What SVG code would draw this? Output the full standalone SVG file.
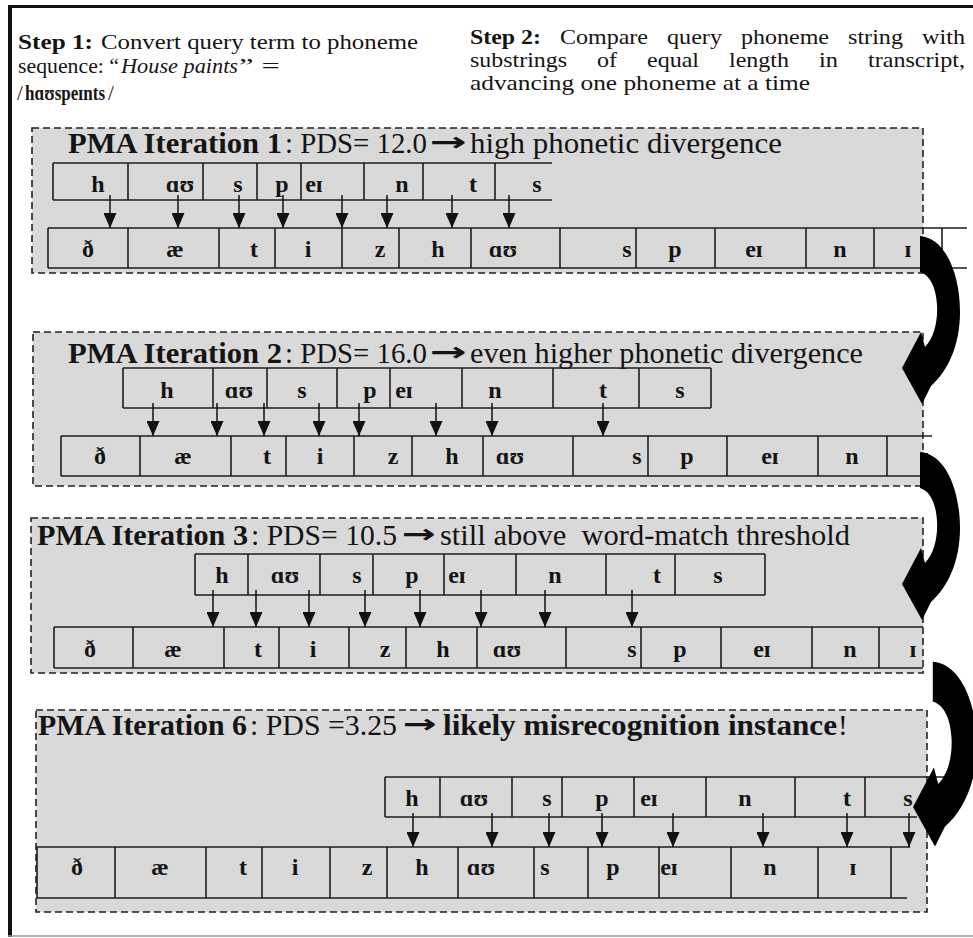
<svg xmlns="http://www.w3.org/2000/svg" width="973" height="938" viewBox="0 0 973 938">
<style>
.t{font-family:"Liberation Serif","DejaVu Serif",serif;fill:#141414}
.st{font-size:21px}
.ti{font-size:29px}
.b{font-weight:bold}
.it{font-style:italic}
.lb{font-size:24px;font-weight:bold;text-anchor:middle}
.ar{font-family:"DejaVu Sans",sans-serif;font-weight:bold;font-size:26px;fill:#141414}
.pan{fill:#d9d9d9;stroke:#222;stroke-width:1.6;stroke-dasharray:7 4}
.row{fill:none;stroke:#1e1e1e;stroke-width:1.6}
.dn line{stroke:#111;stroke-width:1.5;marker-end:url(#ah)}
.curv{fill:#000}
</style>
<defs>
<marker id="ah" markerUnits="userSpaceOnUse" viewBox="0 0 15 13" markerWidth="15" markerHeight="13" refX="15" refY="6.5" orient="auto">
<path d="M0,0 L15,6.5 L0,13 z" fill="#111"/>
</marker>
<path id="curvArrow" d="M920,236 C946,238 960,275 960,312 C960,345 948,371 931,386 L922,404 L902,368 L921,332 L925,347 C934,338 938,321 937,305 C936,287 930,275 920,272 Z"/>
</defs>
<rect x="0" y="0" width="973" height="938" fill="#fff"/>
<g id="frame">
<path d="M10,5 V937" stroke="#111" stroke-width="4" fill="none"/>
<path d="M8,6.5 H973" stroke="#111" stroke-width="3" fill="none"/>
<path d="M8,936 H973" stroke="#999" stroke-width="1.5" fill="none"/>
</g>
<g id="step1">
<text class="t st b" x="18" y="49" textLength="75" lengthAdjust="spacingAndGlyphs">Step 1:</text>
<text class="t st" x="101" y="49" textLength="317" lengthAdjust="spacingAndGlyphs">Convert query term to phoneme</text>
<text class="t st" x="18" y="73" textLength="101" lengthAdjust="spacingAndGlyphs">sequence: “</text>
<text class="t st it" x="121" y="73" textLength="117" lengthAdjust="spacingAndGlyphs">House paints</text>
<text class="t st" x="239" y="73" textLength="41" lengthAdjust="spacingAndGlyphs">” =</text>
<text class="t st" x="17" y="100">/</text>
<text class="t b" style="font-size:20px" x="25" y="100" textLength="80" lengthAdjust="spacingAndGlyphs">hɑʊspeɪnts</text>
<text class="t st" x="108" y="100">/</text>
</g>
<g id="step2">
<text class="t st b" x="470" y="44" textLength="71" lengthAdjust="spacingAndGlyphs">Step 2:</text>
<text class="t st" x="560" y="44" textLength="88" lengthAdjust="spacingAndGlyphs">Compare</text>
<text class="t st" x="667" y="44" textLength="55" lengthAdjust="spacingAndGlyphs">query</text>
<text class="t st" x="741" y="44" textLength="88" lengthAdjust="spacingAndGlyphs">phoneme</text>
<text class="t st" x="848" y="44" textLength="55" lengthAdjust="spacingAndGlyphs">string</text>
<text class="t st" x="922" y="44" textLength="43" lengthAdjust="spacingAndGlyphs">with</text>
<text class="t st" x="470" y="67" textLength="97" lengthAdjust="spacingAndGlyphs">substrings</text>
<text class="t st" x="597" y="67" textLength="20" lengthAdjust="spacingAndGlyphs">of</text>
<text class="t st" x="647" y="67" textLength="52" lengthAdjust="spacingAndGlyphs">equal</text>
<text class="t st" x="729" y="67" textLength="60" lengthAdjust="spacingAndGlyphs">length</text>
<text class="t st" x="819" y="67" textLength="19" lengthAdjust="spacingAndGlyphs">in</text>
<text class="t st" x="868" y="67" textLength="97" lengthAdjust="spacingAndGlyphs">transcript,</text>
<text class="t st" x="470" y="90" textLength="340" lengthAdjust="spacingAndGlyphs">advancing one phoneme at a time</text>
</g>

<g id="panel1">
<rect class="pan" x="32" y="128" width="891" height="145"/>
<text class="t ti b" x="68" y="153" textLength="214" lengthAdjust="spacingAndGlyphs">PMA Iteration 1</text>
<text class="t ti" x="285" y="153" textLength="142" lengthAdjust="spacingAndGlyphs">: PDS= 12.0</text>
<text class="ar" x="430" y="151" textLength="37" lengthAdjust="spacingAndGlyphs">→</text>
<text class="t ti" x="470" y="153" textLength="312" lengthAdjust="spacingAndGlyphs">high phonetic divergence</text>
<path class="row" d="M53,163 H552 M53,200 H552 M53,163 V200 M128,163 V200 M203,163 V200 M257,163 V200 M301,163 V200 M364,163 V200 M423,163 V200 M495,163 V200"/>
<g class="t lb">
<text x="98" y="192">h</text><text x="180" y="192">ɑʊ</text><text x="238" y="192">s</text><text x="282" y="192">p</text><text x="314" y="192">eɪ</text><text x="402" y="192">n</text><text x="473" y="192">t</text><text x="537" y="192">s</text>
</g>
<path class="row" d="M48,228 H967 M48,268 H967 M48,228 V268 M128,228 V268 M219,228 V268 M275,228 V268 M342,228 V268 M399,228 V268 M471,228 V268 M560,228 V268 M636,228 V268 M715,228 V268 M806,228 V268 M874,228 V268 M942,228 V268"/>
<g class="t lb">
<text x="88" y="257">ð</text><text x="175" y="257">æ</text><text x="254" y="257">t</text><text x="308" y="257">i</text><text x="380" y="257">z</text><text x="438" y="257">h</text><text x="503" y="257">ɑʊ</text><text x="627" y="257">s</text><text x="675" y="257">p</text><text x="754" y="257">eɪ</text><text x="840" y="257">n</text><text x="908" y="257">ɪ</text>
</g>
</g>

<g id="panel2">
<rect class="pan" x="33" y="332" width="890" height="154"/>
<text class="t ti b" x="68" y="363" textLength="214" lengthAdjust="spacingAndGlyphs">PMA Iteration 2</text>
<text class="t ti" x="285" y="363" textLength="142" lengthAdjust="spacingAndGlyphs">: PDS= 16.0</text>
<text class="ar" x="430" y="361" textLength="37" lengthAdjust="spacingAndGlyphs">→</text>
<text class="t ti" x="470" y="363" textLength="393" lengthAdjust="spacingAndGlyphs">even higher phonetic divergence</text>
<path class="row" d="M123,368 H711 M123,408 H711 M123,368 V408 M213,368 V408 M267,368 V408 M337,368 V408 M390,368 V408 M462,368 V408 M553,368 V408 M639,368 V408 M711,368 V408"/>
<g class="t lb">
<text x="167" y="398">h</text><text x="239" y="398">ɑʊ</text><text x="302" y="398">s</text><text x="370" y="398">p</text><text x="404" y="398">eɪ</text><text x="495" y="398">n</text><text x="603" y="398">t</text><text x="680" y="398">s</text>
</g>
<path class="row" d="M61,436 H932 M61,476 H932 M61,436 V476 M140,436 V476 M231,436 V476 M286,436 V476 M354,436 V476 M412,436 V476 M483,436 V476 M573,436 V476 M648,436 V476 M727,436 V476 M818,436 V476 M887,436 V476"/>
<g class="t lb">
<text x="100" y="464">ð</text><text x="183" y="464">æ</text><text x="267" y="464">t</text><text x="320" y="464">i</text><text x="393" y="464">z</text><text x="452" y="464">h</text><text x="510" y="464">ɑʊ</text><text x="637" y="464">s</text><text x="687" y="464">p</text><text x="770" y="464">eɪ</text><text x="852" y="464">n</text><text x="925" y="464">ɪ</text>
</g>
</g>

<g id="panel3">
<rect class="pan" x="31" y="518" width="892" height="155"/>
<text class="t ti b" x="37" y="545" textLength="211" lengthAdjust="spacingAndGlyphs">PMA Iteration 3</text>
<text class="t ti" x="251" y="545" textLength="146" lengthAdjust="spacingAndGlyphs">: PDS= 10.5</text>
<text class="ar" x="402" y="543" textLength="34" lengthAdjust="spacingAndGlyphs">→</text>
<text class="t ti" x="440" y="545" textLength="410" lengthAdjust="spacingAndGlyphs">still above&#160; word-match threshold</text>
<path class="row" d="M195,554 H765 M195,595 H765 M195,554 V595 M248,554 V595 M320,554 V595 M373,554 V595 M444,554 V595 M516,554 V595 M606,554 V595 M675,554 V595 M765,554 V595"/>
<g class="t lb">
<text x="222" y="583">h</text><text x="285" y="583">ɑʊ</text><text x="357" y="583">s</text><text x="412" y="583">p</text><text x="457" y="583">eɪ</text><text x="555" y="583">n</text><text x="657" y="583">t</text><text x="718" y="583">s</text>
</g>
<path class="row" d="M54,627 H923 M54,668 H923 M54,627 V668 M133,627 V668 M224,627 V668 M279,627 V668 M349,627 V668 M406,627 V668 M477,627 V668 M566,627 V668 M641,627 V668 M721,627 V668 M812,627 V668 M879,627 V668"/>
<g class="t lb">
<text x="90" y="657">ð</text><text x="173" y="657">æ</text><text x="258" y="657">t</text><text x="313" y="657">i</text><text x="385" y="657">z</text><text x="443" y="657">h</text><text x="507" y="657">ɑʊ</text><text x="632" y="657">s</text><text x="680" y="657">p</text><text x="762" y="657">eɪ</text><text x="850" y="657">n</text><text x="913" y="657">ɪ</text>
</g>
</g>

<g id="panel4">
<rect class="pan" x="36" y="710" width="891" height="202"/>
<text class="t ti b" x="38" y="735" textLength="209" lengthAdjust="spacingAndGlyphs">PMA Iteration 6</text>
<text class="t ti" x="250" y="735" textLength="147" lengthAdjust="spacingAndGlyphs">: PDS =3.25</text>
<text class="ar" x="403" y="733" textLength="34" lengthAdjust="spacingAndGlyphs">→</text>
<text class="t ti b" x="443" y="735" textLength="394" lengthAdjust="spacingAndGlyphs">likely misrecognition instance</text>
<text class="t ti" x="838" y="735">!</text>
<path class="row" d="M385,777 H973 M385,817 H917 M385,777 V817 M440,777 V817 M512,777 V817 M562,777 V817 M634,777 V817 M706,777 V817 M795,777 V817 M865,777 V817"/>
<g class="t lb">
<text x="412" y="806">h</text><text x="474" y="806">ɑʊ</text><text x="547" y="806">s</text><text x="602" y="806">p</text><text x="649" y="806">eɪ</text><text x="745" y="806">n</text><text x="847" y="806">t</text><text x="908" y="806">s</text>
</g>
<path class="row" d="M37,847 H910 M37,898 H907 M37,847 V898 M115,847 V898 M206,847 V898 M262,847 V898 M330,847 V898 M387,847 V898 M458,847 V898 M534,847 V898 M588,847 V898 M659,847 V898 M731,847 V898 M818,847 V898 M891,847 V898"/>
<g class="t lb">
<text x="77" y="875">ð</text><text x="160" y="875">æ</text><text x="243" y="875">t</text><text x="295" y="875">i</text><text x="367" y="875">z</text><text x="422" y="875">h</text><text x="481" y="875">ɑʊ</text><text x="545" y="875">s</text><text x="613" y="875">p</text><text x="669" y="875">eɪ</text><text x="770" y="875">n</text><text x="853" y="875">ɪ</text>
</g>
</g>

<g id="connectors">
<g class="dn">
<line x1="110" y1="195" x2="110" y2="228"/><line x1="178" y1="195" x2="178" y2="228"/><line x1="239" y1="195" x2="239" y2="228"/><line x1="283" y1="195" x2="283" y2="228"/><line x1="342" y1="195" x2="342" y2="228"/><line x1="387" y1="195" x2="387" y2="228"/><line x1="452" y1="195" x2="452" y2="228"/><line x1="509" y1="195" x2="509" y2="228"/>
<line x1="153" y1="403" x2="153" y2="436"/><line x1="217" y1="403" x2="217" y2="436"/><line x1="264" y1="403" x2="264" y2="436"/><line x1="319" y1="403" x2="319" y2="436"/><line x1="359" y1="403" x2="359" y2="436"/><line x1="436" y1="403" x2="436" y2="436"/><line x1="492" y1="403" x2="492" y2="436"/><line x1="603" y1="403" x2="603" y2="436"/>
<line x1="213" y1="590" x2="213" y2="627"/><line x1="256" y1="590" x2="256" y2="627"/><line x1="309" y1="590" x2="309" y2="627"/><line x1="365" y1="590" x2="365" y2="627"/><line x1="420" y1="590" x2="420" y2="627"/><line x1="481" y1="590" x2="481" y2="627"/><line x1="545" y1="590" x2="545" y2="627"/><line x1="632" y1="590" x2="632" y2="627"/>
<line x1="413" y1="813" x2="413" y2="847"/><line x1="492" y1="813" x2="492" y2="847"/><line x1="549" y1="813" x2="549" y2="847"/><line x1="602" y1="813" x2="602" y2="847"/><line x1="673" y1="813" x2="673" y2="847"/><line x1="763" y1="813" x2="763" y2="847"/><line x1="847" y1="813" x2="847" y2="847"/><line x1="909" y1="813" x2="909" y2="847"/>
</g>
<use href="#curvArrow" class="curv"/>
<use href="#curvArrow" class="curv" transform="translate(0,216)"/>
<use href="#curvArrow" class="curv" transform="translate(-79.2,402.2) scale(1.1)"/>
</g>
</svg>
